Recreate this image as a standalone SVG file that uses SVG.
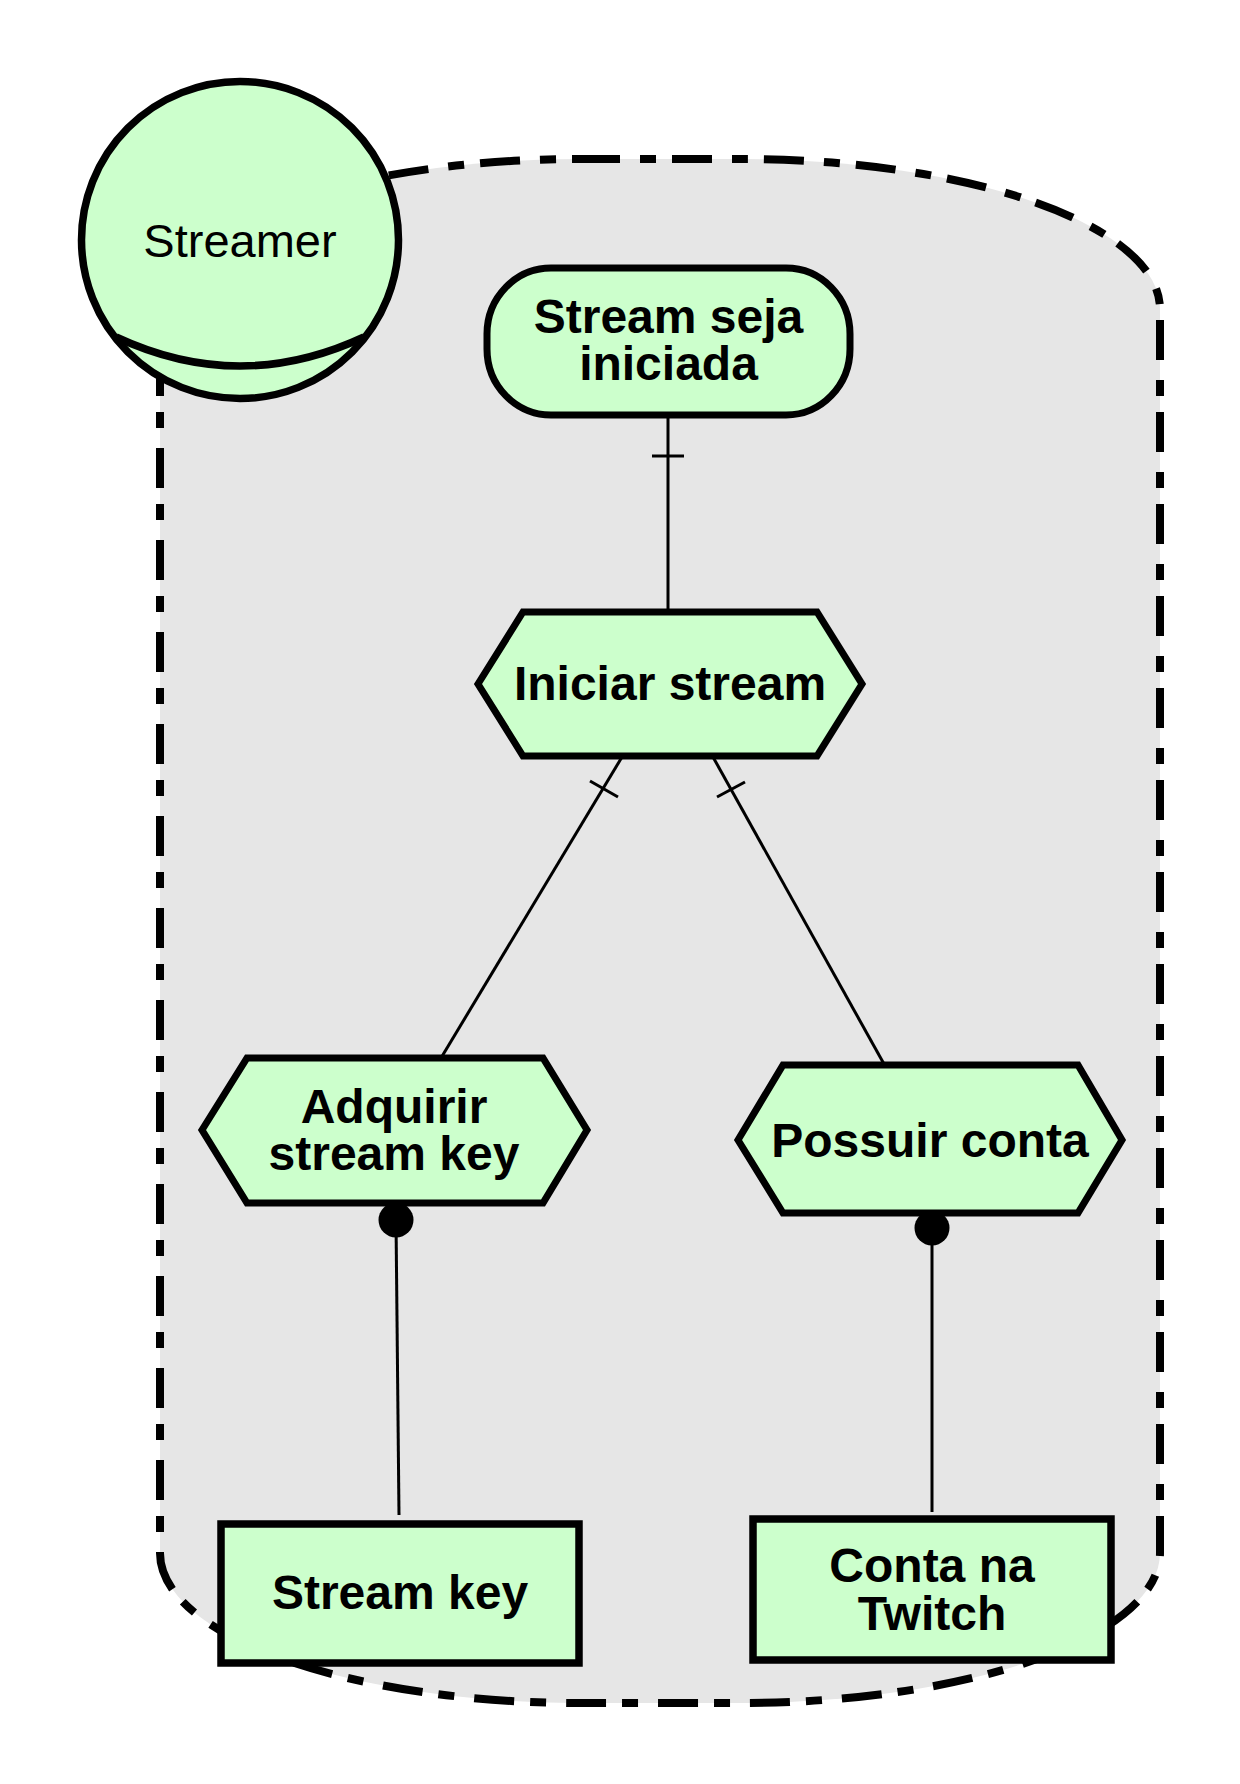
<svg xmlns="http://www.w3.org/2000/svg" width="1240" height="1784" viewBox="0 0 1240 1784">
  <style>
    .node { fill: #ccffcc; stroke: #000000; stroke-width: 7; }
    .rect { fill: #ccffcc; stroke: #000000; stroke-width: 7.5; }
    .conn { fill: none; stroke: #000000; stroke-width: 3; }
    .dot { fill: #000000; }
    .lbl { font-family: "Liberation Sans", Arial, sans-serif; font-weight: bold; font-size: 48px; text-anchor: middle; fill: #000000; }
    .actor { font-family: "Liberation Sans", Arial, sans-serif; font-size: 47px; text-anchor: middle; fill: #000000; }
  </style>
  <rect x="0" y="0" width="1240" height="1784" fill="#ffffff"/>
  <g id="boundary">
    <path d="M 580,159 L 740,159 A 420,150 0 0 1 1160,309 L 1160,1553 A 420,150 0 0 1 740,1703 L 580,1703 A 420,150 0 0 1 160,1553 L 160,309 A 420,150 0 0 1 580,159 Z" fill="#e6e6e6" stroke="#000000" stroke-width="8" stroke-dasharray="40 20 16 16"/>
  </g>
  <g id="connectors">
    <line class="conn" x1="668" y1="415" x2="668" y2="612"/>
    <line class="conn" x1="652" y1="456" x2="684" y2="456"/>
    <line class="conn" x1="622" y1="757" x2="441" y2="1058"/>
    <line class="conn" x1="590" y1="781" x2="618" y2="797"/>
    <line class="conn" x1="713" y1="757" x2="884" y2="1064"/>
    <line class="conn" x1="717" y1="797" x2="745" y2="782"/>
    <line class="conn" x1="396" y1="1220" x2="399" y2="1515"/>
    <circle class="dot" cx="396" cy="1220" r="17.5"/>
    <line class="conn" x1="932" y1="1228" x2="932" y2="1512"/>
    <circle class="dot" cx="932" cy="1228" r="17.5"/>
  </g>
  <g id="streamer">
    <circle class="node" cx="240" cy="240" r="158.5" style="stroke-width:7.5"/>
    <path d="M 116,337 Q 240,395 364,337" fill="none" stroke="#000000" stroke-width="7.5"/>
    <text class="actor" x="240" y="257">Streamer</text>
  </g>
  <g id="stream-seja-iniciada">
    <rect class="node" x="487" y="268" width="363" height="147" rx="64" ry="66"/>
    <text class="lbl" x="668.5" y="333">Stream seja</text>
    <text class="lbl" x="668.5" y="380">iniciada</text>
  </g>
  <g id="iniciar-stream">
    <polygon class="node" points="478,684 523,612 817,612 862,684 817,756 523,756"/>
    <text class="lbl" x="670" y="700">Iniciar stream</text>
  </g>
  <g id="adquirir-stream-key">
    <polygon class="node" points="202,1130 247,1058 543,1058 587,1130 543,1203 247,1203"/>
    <text class="lbl" x="394" y="1123">Adquirir</text>
    <text class="lbl" x="394" y="1170">stream key</text>
  </g>
  <g id="possuir-conta">
    <polygon class="node" points="738,1140 783,1065 1078,1065 1122,1140 1078,1213 783,1213"/>
    <text class="lbl" x="930" y="1157">Possuir conta</text>
  </g>
  <g id="stream-key">
    <rect class="rect" x="221" y="1524" width="358" height="139"/>
    <text class="lbl" x="400" y="1609">Stream key</text>
  </g>
  <g id="conta-na-twitch">
    <rect class="rect" x="753" y="1519" width="358" height="141"/>
    <text class="lbl" x="932" y="1582">Conta na</text>
    <text class="lbl" x="932" y="1630">Twitch</text>
  </g>
</svg>
